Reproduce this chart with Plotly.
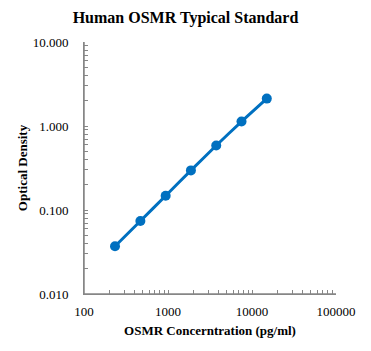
import plotly.graph_objects as go

conc = [234, 469, 938, 1875, 3750, 7500, 15000]
od = [0.037, 0.074, 0.148, 0.296, 0.586, 1.13, 2.12]

x_major = [100, 1000, 10000, 100000]
x_major_text = ["100", "1000", "10000", "100000"]
y_major = [0.01, 0.1, 1, 10]
y_major_text = ["0.010", "0.100", "1.000", "10.000"]

def with_minor(majors):
    vals = []
    for i, m in enumerate(majors):
        vals.append(m)
        if i < len(majors) - 1:
            for k in range(2, 10):
                vals.append(m * k)
    return vals

xv = with_minor(x_major)
yv = with_minor(y_major)

blue = "#0070C0"
axis_col = "#868686"
font_family = "Liberation Serif"
clear = "rgba(0,0,0,0)"

fig = go.Figure()
fig.add_trace(go.Scatter(
    x=conc, y=od, mode="lines+markers",
    line=dict(color=blue, width=3, shape="spline", smoothing=0.6),
    marker=dict(color=blue, size=10),
    showlegend=False,
))
fig.add_trace(go.Scatter(
    x=conc, y=od, mode="markers", xaxis="x2", yaxis="y2",
    marker=dict(opacity=0), hoverinfo="skip", showlegend=False,
))

fig.update_layout(
    width=371, height=351,
    margin=dict(l=84, r=35, t=42, b=57),
    paper_bgcolor="white", plot_bgcolor="white",
    font=dict(family=font_family, color="black", size=13),
    title=dict(text="<b>Human OSMR Typical Standard</b>", x=0.5, xanchor="center",
               y=1 - 17/351, yanchor="middle", font=dict(size=16, family=font_family)),
    xaxis=dict(
        type="log", range=[2, 5], tickmode="array", tickvals=xv, showticklabels=False,
        ticks="inside", ticklen=4, tickcolor=axis_col, tickwidth=1,
        showline=True, linecolor=axis_col, linewidth=1, showgrid=False, zeroline=False,
        title=dict(text="<b>OSMR Concerntration (pg/ml)</b>", font=dict(size=13, family=font_family), standoff=31),
    ),
    yaxis=dict(
        type="log", range=[-2, 1], tickmode="array", tickvals=yv, showticklabels=False,
        ticks="inside", ticklen=4, tickcolor=axis_col, tickwidth=1,
        showline=True, linecolor=axis_col, linewidth=1, showgrid=False, zeroline=False,
        title=dict(text="<b>Optical Density</b>", font=dict(size=13, family=font_family), standoff=52),
    ),
    xaxis2=dict(
        type="log", range=[2, 5], overlaying="x", anchor="y", side="bottom",
        tickmode="array", tickvals=x_major, ticktext=x_major_text,
        ticks="outside", ticklen=5, tickcolor=clear, showline=False, showgrid=False, zeroline=False,
        tickfont=dict(size=13, family=font_family),
    ),
    yaxis2=dict(
        type="log", range=[-2, 1], overlaying="y", anchor="x", side="left",
        tickmode="array", tickvals=y_major, ticktext=y_major_text,
        ticks="outside", ticklen=12, tickcolor=clear, showline=False, showgrid=False, zeroline=False,
        tickfont=dict(size=13, family=font_family),
    ),
    shapes=[
        dict(type="line", xref="paper", yref="paper", x0=0, x1=0, y0=0, y1=1,
             line=dict(color=axis_col, width=1.5), layer="above"),
        dict(type="line", xref="paper", yref="paper", x0=0, x1=1, y0=0, y1=0,
             line=dict(color=axis_col, width=1.5), layer="above"),
    ],
)

fig.write_html("out.html")
